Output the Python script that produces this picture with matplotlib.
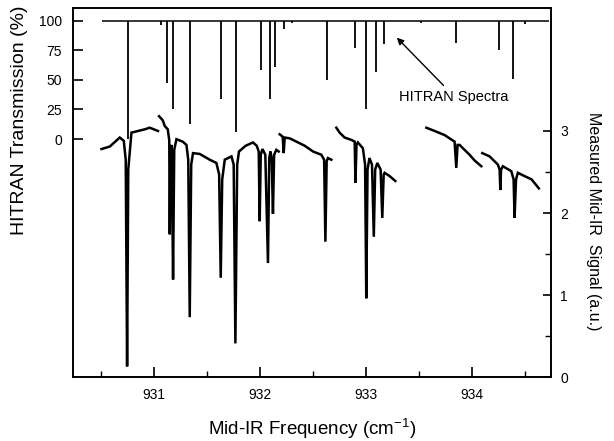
import matplotlib
matplotlib.use("Agg")
import matplotlib.pyplot as plt
from matplotlib.ticker import MultipleLocator, FixedLocator

plt.rcParams['font.family'] = ['Liberation Sans', 'DejaVu Sans']

# ---------------- HITRAN line list (centre frequency, minimum transmission %) ----
hitran_center = [930.755, 931.073, 931.129, 931.182, 931.339, 931.631, 931.779,
                 932.014, 932.092, 932.139, 932.227, 932.299, 932.636, 932.893,
                 933.003, 933.090, 933.168, 933.521, 933.844, 934.251, 934.383,
                 934.500]
hitran_min = [0, 96, 47, 25, 13, 34, 6,
              58, 34, 61, 93, 98, 50, 77,
              25, 57, 80, 98, 81, 75, 51,
              97]
hitran_baseline = 100
hitran_start, hitran_end = 930.51, 934.72

# ---------------- Measured mid-IR signal (a.u.), six scan segments ----------------
seg1_freq = [930.508, 930.586, 930.680, 930.718, 930.736, 930.749, 930.760, 930.790,
             930.915, 930.962, 931.040]
seg1_sig = [2.78, 2.81, 2.92, 2.88, 2.65, 0.13, 2.53, 2.98,
            3.02, 3.04, 3.00]

seg2_freq = [931.050, 931.085, 931.104, 931.132, 931.146, 931.151, 931.157, 931.169,
             931.182, 931.193, 931.214, 931.273, 931.308, 931.325, 931.339, 931.353,
             931.370, 931.433, 931.527, 931.590, 931.616, 931.631, 931.645, 931.669,
             931.732, 931.753, 931.769, 931.786, 931.803, 931.866, 931.935, 931.970,
             931.989, 931.998, 932.008, 932.024, 932.051, 932.076, 932.088, 932.099,
             932.111, 932.123, 932.134, 932.155, 932.177]
seg2_sig = [3.18, 3.13, 3.06, 3.02, 2.89, 1.74, 2.77, 2.83,
            1.19, 2.77, 2.90, 2.87, 2.83, 2.65, 0.73, 2.59,
            2.73, 2.72, 2.65, 2.61, 2.47, 1.21, 2.41, 2.65,
            2.69, 2.59, 0.41, 2.59, 2.75, 2.82, 2.86, 2.82,
            2.75, 1.90, 2.71, 2.78, 2.71, 1.39, 2.67, 2.75,
            2.67, 1.99, 2.71, 2.77, 2.75]

seg3_freq = [932.186, 932.215, 932.224, 932.234, 932.281, 932.344, 932.422, 932.500,
             932.579, 932.605, 932.617, 932.629, 932.641, 932.673]
seg3_sig = [2.96, 2.93, 2.73, 2.92, 2.91, 2.87, 2.82, 2.75,
            2.71, 2.65, 1.65, 2.63, 2.67, 2.65]

seg4_freq = [932.720, 932.751, 932.798, 932.864, 932.893, 932.900, 932.910, 932.923,
             932.970, 932.991, 933.002, 933.014, 933.032, 933.056, 933.073, 933.086,
             933.106, 933.137, 933.153, 933.166, 933.175, 933.222, 933.276]
seg4_sig = [3.04, 2.98, 2.92, 2.89, 2.87, 2.37, 2.83, 2.86,
            2.79, 2.59, 0.96, 2.53, 2.67, 2.59, 1.71, 2.53,
            2.61, 2.53, 1.94, 2.47, 2.49, 2.45, 2.39]

seg5_freq = [933.568, 933.646, 933.740, 933.834, 933.850, 933.862, 933.881, 933.928,
             933.975, 934.023, 934.086]
seg5_sig = [3.04, 3.00, 2.95, 2.87, 2.55, 2.83, 2.83, 2.77,
            2.71, 2.64, 2.57]

seg6_freq = [934.095, 934.164, 934.242, 934.258, 934.265, 934.272, 934.289, 934.368,
             934.390, 934.399, 934.413, 934.430, 934.493, 934.559, 934.628]
seg6_sig = [2.73, 2.69, 2.59, 2.53, 2.28, 2.53, 2.57, 2.51,
            2.41, 1.94, 2.41, 2.49, 2.45, 2.41, 2.30]

measured_freqs = [seg1_freq, seg2_freq, seg3_freq, seg4_freq, seg5_freq, seg6_freq]
measured_sigs = [seg1_sig, seg2_sig, seg3_sig, seg4_sig, seg5_sig, seg6_sig]

# ---------------- Figure ----------------
fig = plt.figure(figsize=(6.14, 4.41), dpi=100)
ax = fig.add_axes([0.119, 0.145, 0.778, 0.837])
ax2 = ax.twinx()

# HITRAN spectrum on left axis
ax.hlines(hitran_baseline, hitran_start, hitran_end, color='black', lw=1.1)
ax.vlines(hitran_center, hitran_min, hitran_baseline, color='black', lw=1.3)

# measured signal on right axis
for f, s in zip(measured_freqs, measured_sigs):
    ax2.plot(f, s, color='black', lw=1.8, solid_joinstyle='miter')

ax.set_xlim(930.24, 934.74)
ax.set_ylim(-201, 110.7)
ax2.set_ylim(0, 4.5)

ax.xaxis.set_major_locator(MultipleLocator(1))
ax.xaxis.set_minor_locator(MultipleLocator(0.5))
ax.set_yticks([0, 25, 50, 75, 100])
ax2.set_yticks([0, 1, 2, 3])
ax2.yaxis.set_minor_locator(FixedLocator([0.5, 1.5, 2.5]))

for a in (ax, ax2):
    for sp in a.spines.values():
        sp.set_linewidth(1.2)
ax.tick_params(axis='both', which='major', direction='in', length=7, width=1.2,
               labelsize=10, pad=8)
ax.tick_params(axis='x', which='minor', direction='in', length=4, width=1.0)
ax2.tick_params(axis='y', which='major', direction='in', length=6, width=1.2,
                labelsize=10, pad=7)
ax2.tick_params(axis='y', which='minor', direction='in', length=4, width=1.0)

ax.set_xlabel('Mid-IR Frequency (cm$^{\\mathregular{-1}}$)', fontsize=13.5)
ax.xaxis.set_label_coords(0.5, -0.106)
ax.set_ylabel('HITRAN Transmission (%)', fontsize=14)
ax.yaxis.set_label_coords(-0.094, 0.696)
ax2.set_ylabel('Measured Mid-IR  Signal (a.u.)', fontsize=11.5, rotation=-90)
ax2.yaxis.set_label_coords(1.105, 0.423)

ax.annotate('HITRAN Spectra', xy=(933.29, 85.6), xytext=(933.825, 35.3),
            ha='center', va='center', fontsize=10.5,
            arrowprops=dict(arrowstyle='-|>', color='black', lw=1.0,
                            mutation_scale=10, shrinkA=2, shrinkB=0,
                            relpos=(0.45, 1.0)))

fig.savefig('out.png', dpi=100)
